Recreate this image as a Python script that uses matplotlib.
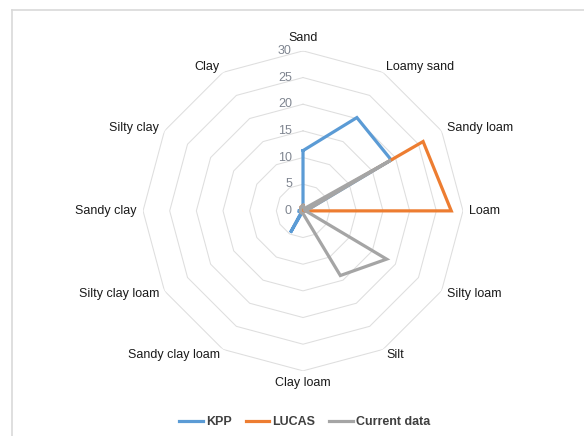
import numpy as np
import matplotlib
matplotlib.use("Agg")
from matplotlib import pyplot as plt
from matplotlib.lines import Line2D

categories = ['Sand', 'Loamy sand', 'Sandy loam', 'Loam', 'Silty loam', 'Silt',
              'Clay loam', 'Sandy clay loam', 'Silty clay loam', 'Sandy clay',
              'Silty clay', 'Clay']
kpp = [11.3, 20.2, 19.1, 0.5, 0, 0, 0, 4.7, 0.3, 1.0, 0, 0]
lucas = [1.0, 0, 26, 27.8, 0, 0, 0, 0, 0, 0, 0.5, 0.8]
current = [1.0, 0.5, 19, 0.5, 18.1, 14, 0.5, 0.5, 0.5, 0.5, 0.5, 0.8]
series_names = ['KPP', 'LUCAS', 'Current data']
radial_ticks = [0, 5, 10, 15, 20, 25, 30]

colors = ['#5B9BD5', '#ED7D31', '#A5A5A5']

plt.rcParams['font.family'] = ['Liberation Sans', 'DejaVu Sans']

fig = plt.figure(figsize=(5.84, 4.36), dpi=100)
# light frame round the chart area, as in the original (left and top edges visible)
fig.add_artist(Line2D([12 / 584, 12 / 584], [0, 1 - 10 / 436], transform=fig.transFigure,
                      color='#D9D9D9', lw=1.2))
fig.add_artist(Line2D([12 / 584, 1], [1 - 10 / 436, 1 - 10 / 436], transform=fig.transFigure,
                      color='#D9D9D9', lw=1.2))

ax = fig.add_axes([0.2449, 0.1514 - 0.002, 0.5479, 0.7339], projection='polar')
ax.set_theta_zero_location('N')
ax.set_theta_direction(-1)
ax.set_ylim(0, 30)
ax.grid(False)
ax.set_xticks([])
ax.set_yticks([])
ax.spines['polar'].set_visible(False)
ax.patch.set_alpha(0)

n = len(categories)
theta = np.linspace(0, 2 * np.pi, n, endpoint=False)
theta_c = np.append(theta, theta[0])

# polygon gridlines
for r in radial_ticks[1:]:
    ax.plot(theta_c, [r] * (n + 1), color='#DEDEDE', lw=0.75, zorder=1)

# radial tick labels
for r in radial_ticks:
    ax.annotate(str(r), xy=(0, r), xytext=(-8, 0), textcoords='offset points',
                ha='right', va='center', fontsize=9, color='#7F8590')

# category labels
for t, name in zip(theta, categories):
    deg = np.degrees(t) % 360
    if deg == 0:
        ha, va = 'center', 'bottom'
    elif deg == 180:
        ha, va = 'center', 'top'
    elif deg < 180:
        ha, va = 'left', 'center'
    else:
        ha, va = 'right', 'center'
    ax.text(t, 31.2, name, ha=ha, va=va, fontsize=9, color='#1a1a1a')

for vals, c, name in zip([kpp, lucas, current], colors, series_names):
    ax.plot(theta_c, list(vals) + [vals[0]], color=c, lw=2.3, label=name,
            zorder=3, solid_joinstyle='miter')

fig.legend(loc='lower center', bbox_to_anchor=(0.522, -0.008), ncol=3, frameon=False,
           handlelength=1.9, handletextpad=0.25, columnspacing=1.1,
           prop={'weight': 'bold', 'size': 9}, labelcolor='#404040')

fig.savefig('out.png', dpi=100)
